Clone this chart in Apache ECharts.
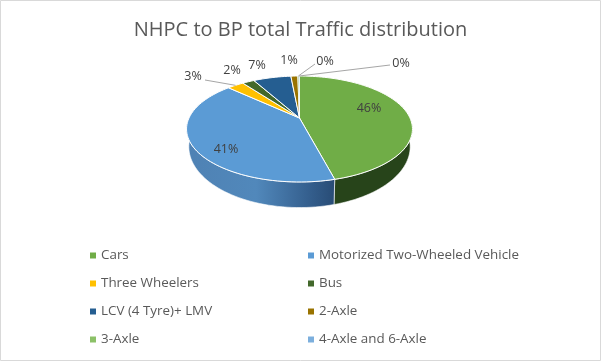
<!DOCTYPE html>
<html>
<head>
<meta charset="utf-8">
<style>
html,body{margin:0;padding:0;background:#fff}
#chart{width:601px;height:361px}
</style>
<script src="https://cdn.jsdelivr.net/npm/echarts@6/dist/echarts.min.js"></script>
</head>
<body>
<div id="chart"></div>
<script>
var categories = ['Cars','Motorized Two-Wheeled Vehicle','Three Wheelers','Bus','LCV (4 Tyre)+ LMV','2-Axle','3-Axle','4-Axle and 6-Axle'];
var shares = [45.9,41.0,2.9,2.1,6.6,1.2,0.2,0.1];
var percentLabels = ['46%','41%','3%','2%','7%','1%','0%','0%'];

var colors = ['#70ad47','#5b9bd5','#ffc000','#43682b','#255e91','#997300','#8cc168','#7cafdd'];
// label anchor for each slice, null leader = no line
var labelPos = [[369,108],[226,149],[193,76],[232,70],[257,65],[289,60],[325,61],[401,63]];
var leaderFrom = [null,null,[205,80],null,null,null,[315,64],[390,65]];

// tilted disc, apex is higher than the ellipse centre
var apex = [299.5,118], K = 0.2075, SY = 50.7, SX = 110.5, DEPTH_A = 0.98, DEPTH_B = 1.15, DEPTH_C = 16;
var FRONT_FROM = 95, FRONT_TO = 265;

function topPoint(deg){
  var t = deg*Math.PI/180, u = Math.sin(t), v = Math.cos(t), d = 1+K*v;
  return [apex[0]+SX*u/d, apex[1]-SY*v/d];
}
function bottomPoint(deg){
  var p = topPoint(deg), x = p[0]-apex[0], y = p[1]-apex[1];
  return [apex[0]+x*DEPTH_A, apex[1]+y*DEPTH_B+DEPTH_C];
}
function arc(fn,a,b){
  var pts = [], n = Math.max(2,Math.ceil(Math.abs(b-a)/2));
  for(var i=0;i<=n;i++) pts.push(fn(a+(b-a)*i/n));
  return pts;
}
var total = shares.reduce(function(s,v){return s+v},0);
function startAngle(i){
  var s = 0;
  for(var j=0;j<i;j++) s += shares[j];
  return s/total*360;
}
function wallFill(i){
  var dark = i===0
    ? [[0,'#2a4a18'],[1,'#27441a']]
    : [[0,'#4f82b4'],[0.45,'#5188bb'],[0.8,'#35608f'],[1,'#274a73']];
  return new echarts.graphic.LinearGradient(190,0,337,0,dark.map(function(c){return {offset:c[0],color:c[1]}}),true);
}

function makeRender(i){
  return function(params,api){
    var a = startAngle(i), b = a+api.value(0)/total*360, kids = [];
    var wa = Math.max(a,FRONT_FROM), wb = Math.min(b,FRONT_TO);
    if(wb>wa){
      kids.push({type:'polygon',z2:1,
        shape:{points:arc(topPoint,wa,wb).concat(arc(bottomPoint,wb,wa))},
        style:{fill:wallFill(i),stroke:'#ffffff',lineWidth:0.6}});
    }
    kids.push({type:'polygon',z2:2,
      shape:{points:[apex].concat(arc(topPoint,a,b))},
      style:{fill:colors[i],stroke:'#ffffff',lineWidth:b-a<1.5?0.5:1}});
    if(leaderFrom[i]){
      kids.push({type:'line',z2:3,
        shape:{x1:leaderFrom[i][0],y1:leaderFrom[i][1],x2:topPoint((a+b)/2)[0],y2:topPoint((a+b)/2)[1]},
        style:{stroke:'#a6a6a6',lineWidth:1}});
    }
    kids.push({type:'text',z2:4,x:labelPos[i][0],y:labelPos[i][1],
      style:{text:percentLabels[i],fill:'#404040',font:'12.5px "Open Sans"',align:'center',verticalAlign:'middle'}});
    return {type:'group',children:kids};
  };
}

var legendText = {color:'#595959',fontSize:13.4,fontFamily:'"Open Sans"'};
function legendAt(x,names){
  return {orient:'vertical',left:x,top:249,itemWidth:6,itemHeight:6,itemGap:15,icon:'rect',
    data:names,textStyle:legendText,selectedMode:false,padding:0};
}

var chart = echarts.init(document.getElementById('chart'),null,{renderer:'canvas'});
chart.setOption({
  animation:false,
  backgroundColor:'#ffffff',
  title:{text:'NHPC to BP total Traffic distribution',left:'center',top:15,
    textStyle:{color:'#595959',fontSize:20,fontWeight:'normal',fontFamily:'"Open Sans"'}},
  graphic:[{type:'rect',silent:true,shape:{x:0.5,y:0.5,width:600,height:360},
    style:{fill:'transparent',stroke:'#d9d9d9',lineWidth:1}}],
  legend:[
    legendAt(90,categories.filter(function(c,i){return i%2===0})),
    legendAt(308,categories.filter(function(c,i){return i%2===1}))
  ],
  series:categories.map(function(name,i){
    return {type:'custom',name:name,coordinateSystem:'none',
      itemStyle:{color:colors[i]},
      renderItem:makeRender(i),
      data:[[shares[i]]]};
  })
});
</script>
</body>
</html>
